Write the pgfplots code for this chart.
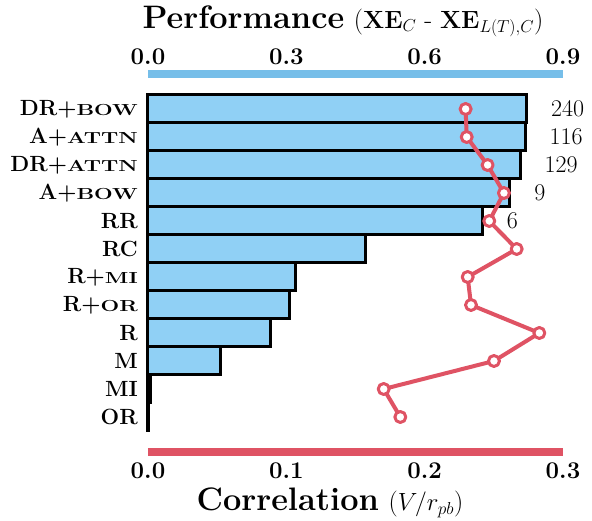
\documentclass[border=0pt]{standalone}
\usepackage{pgfplots}
\pgfplotsset{compat=1.18}
\usepackage{graphicx}
\definecolor{barblue}{RGB}{144,208,245}
\definecolor{lineblue}{RGB}{118,190,233}
\definecolor{corred}{RGB}{223,83,100}
\newcommand{\yl}[1]{\fontsize{22}{26}\selectfont\textbf{#1}}
\newcommand{\lbl}[2]{\fontsize{22}{26}\selectfont\textbf{#1}\scalebox{1.38}[1]{\fontsize{16}{16}\selectfont\bfseries #2}}
\newcommand{\tl}[1]{\fontsize{24}{26}\selectfont\textbf{#1}}
\begin{document}
\begin{tikzpicture}
\useasboundingbox (-148pt,-69pt) rectangle (444pt,452pt);
\begin{axis}[
  name=perf, scale only axis, width=415pt, height=378pt,
  at={(0,0)}, anchor=south west,
  xmin=0, xmax=0.9, ymin=-1.25, ymax=12.25,
  axis x line*=top, axis y line*=left,
  x axis line style={line width=8pt, draw=lineblue, -},
  y axis line style={draw=none},
  xtick={0,0.3,0.6,0.9},
  xticklabels={\tl{0.0},\tl{0.3},\tl{0.6},\tl{0.9}},
  ytick={0,1,2,3,4,5,6,7,8,9,10,11},
  yticklabels={\yl{OR},\yl{MI},\yl{M},\yl{R},\lbl{R+}{OR},\lbl{R+}{MI},\yl{RC},\yl{RR},\lbl{A+}{BOW},\lbl{DR+}{ATTN},\lbl{A+}{ATTN},\lbl{DR+}{BOW}},
  major tick length=0pt, tick style={draw=none},
  xticklabel style={inner sep=0pt, yshift=9pt},
  yticklabel style={inner sep=0pt, xshift=-10pt},
  clip=false,
]
\addplot[xbar, bar width=1, fill=barblue, draw=black, line width=3pt,
  point meta=explicit symbolic,
  nodes near coords={\fontsize{24}{26}\selectfont\pgfplotspointmeta},
  nodes near coords style={anchor=west, inner sep=0pt, xshift=23pt, text=black}]
coordinates {
  (0.821,11) [240]
  (0.818,10) [116]
  (0.807,9) [129]
  (0.785,8) [9]
  (0.725,7) [6]
  (0.471,6) [\phantom{0}]
  (0.320,5) [\phantom{0}]
  (0.306,4) [\phantom{0}]
  (0.266,3) [\phantom{0}]
  (0.158,2) [\phantom{0}]
  (0.006,1) [\phantom{0}]
  (0.0005,0) [\phantom{0}]
};
\end{axis}
\begin{axis}[
  scale only axis, width=415pt, height=378pt,
  at={(0,0)}, anchor=south west,
  xmin=0, xmax=0.3, ymin=-1.25, ymax=12.25,
  axis x line*=bottom, hide y axis,
  x axis line style={line width=8pt, draw=corred, -},
  xtick={0,0.1,0.2,0.3},
  xticklabels={\tl{0.0},\tl{0.1},\tl{0.2},\tl{0.3}},
  major tick length=0pt, tick style={draw=none},
  xticklabel style={inner sep=0pt, yshift=-11pt},
  clip=false,
]
\addplot[corred, line width=4pt, line join=round, mark=*, mark size=5.5pt,
  mark options={fill=white, draw=corred, line width=3pt}]
coordinates {
  (0.2296,11) (0.2304,10) (0.2455,9) (0.2573,8) (0.2467,7) (0.2665,6)
  (0.2311,5) (0.2335,4) (0.2829,3) (0.2501,2) (0.1704,1) (0.1824,0)
};
\end{axis}
\node[inner sep=0pt] at (195pt,431pt) {\fontsize{32.5}{36}\selectfont\textbf{Performance}\ {\fontsize{26}{30}\selectfont($\mathbf{XE}_C$ - $\mathbf{XE}_{L(T),C}$)}};
\node[inner sep=0pt] at (182pt,-51pt) {\fontsize{32.5}{36}\selectfont\textbf{Correlation}\ {\fontsize{26}{30}\selectfont($V/r_{pb}$)}};
\end{tikzpicture}
\end{document}
